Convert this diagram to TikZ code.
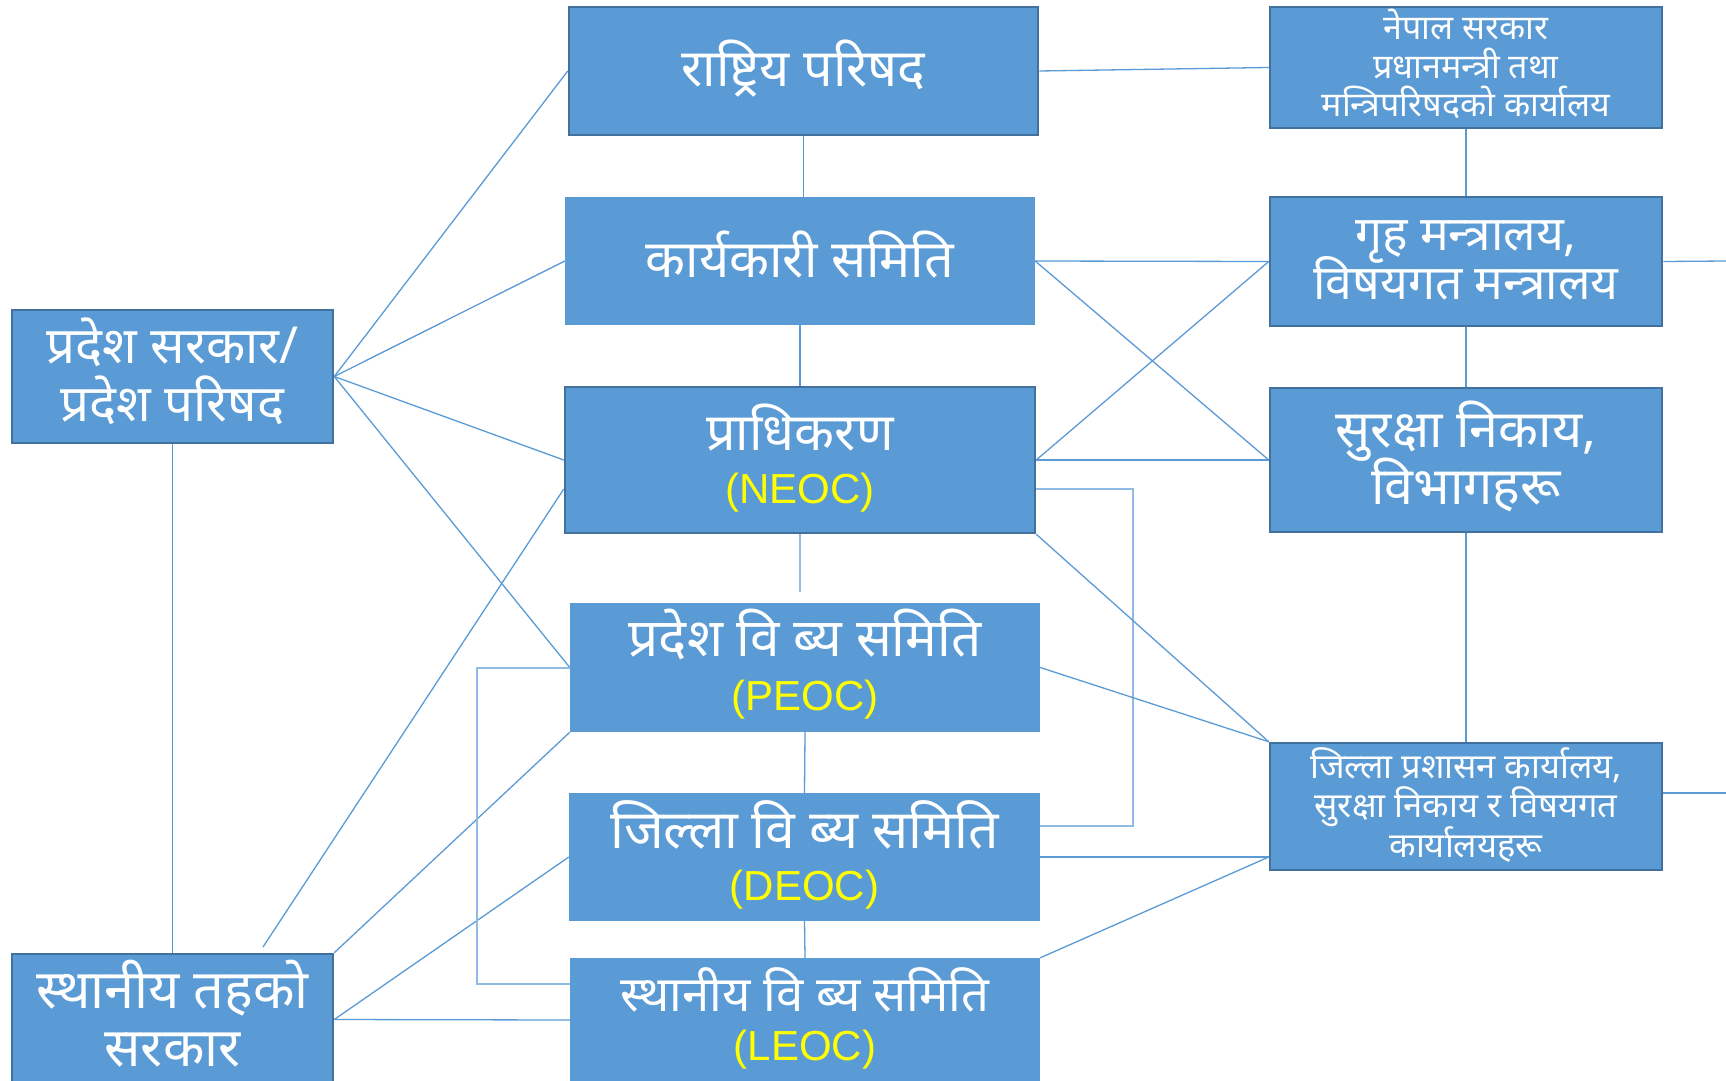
\documentclass[tikz,border=0pt]{standalone}
\usepackage{fontspec}
\setmainfont{Liberation Sans}
\newfontfamily\dev[Script=Devanagari]{Noto Sans}
\newfontfamily\lat{Liberation Sans}
\usetikzlibrary{calc,backgrounds}
\definecolor{boxblue}{HTML}{5B9BD5}
\definecolor{boxedge}{HTML}{41719C}
\definecolor{linkblue}{HTML}{5B9BD5}
\definecolor{elbowblue}{HTML}{8FBBE5}
\definecolor{neon}{HTML}{FFFF00}
\newcommand{\fsz}[2]{\fontsize{#1pt}{#2pt}\selectfont\lineskiplimit=-200pt\lineskip=0pt}
\newcommand{\yel}[1]{{\color{neon}\lat\fsz{42}{58}#1}}
\newcommand{\up}[2]{\raisebox{#1}[\height][\depth]{#2}}
\begin{document}
\begin{tikzpicture}[x=1pt,y=-1pt,
  box/.style={fill=boxblue,text=white,align=center,inner sep=0pt},
  edged/.style={box,draw=boxedge,line width=2.5pt},
  link/.style={draw=linkblue,line width=1.3pt},
  elbow/.style={draw=elbowblue,line width=2pt}]
\useasboundingbox (0,0) rectangle (1726,1081);
% boxes
\node[edged,minimum width=469pt,minimum height=128pt,font=\dev\fsz{52}{58}] (rastriya) at (803.5,71) {\up{2pt}{राष्ट्रिय परिषद}};
\node[edged,minimum width=392pt,minimum height=121pt,font=\dev\fsz{34}{38.5}] (nepal) at (1466,67.5) {\up{3.3pt}{नेपाल सरकार}\\\up{3.3pt}{प्रधानमन्त्री तथा}\\\up{3.3pt}{मन्त्रिपरिषदको कार्यालय}};
\node[box,minimum width=470pt,minimum height=128pt,font=\dev\fsz{52}{58}] (karya) at (800,261) {\up{6.5pt}{कार्यकारी समिति}};
\node[edged,minimum width=392pt,minimum height=129pt,font=\dev\fsz{48}{49.5}] (griha) at (1466,261.5) {\up{1pt}{गृह मन्त्रालय,}\\\up{1pt}{विषयगत मन्त्रालय}};
\node[edged,minimum width=470pt,minimum height=146pt,font=\dev\fsz{52}{57}] (pradhi) at (800,460) {\up{0.4pt}{प्राधिकरण}\\\up{3.7pt}{\yel{(NEOC)}}};
\node[edged,minimum width=392pt,minimum height=144pt,font=\dev\fsz{52}{57}] (suraksha) at (1466,460) {\up{3.5pt}{सुरक्षा निकाय,}\\\up{4pt}{विभागहरू}};
\node[edged,minimum width=321pt,minimum height=133pt,font=\dev\fsz{51}{58}] (pradesh) at (172.5,376.5) {\up{5pt}{प्रदेश सरकार/}\\\up{5pt}{प्रदेश परिषद}};
\node[box,minimum width=470pt,minimum height=129pt,font=\dev\fsz{53}{57}] (peoc) at (805,667.5) {\up{2pt}{प्रदेश वि ब्य समिति}\\\up{5.3pt}{\yel{(PEOC)}}};
\node[box,minimum width=471pt,minimum height=128pt,font=\dev\fsz{53.5}{57}] (deoc) at (804.5,857) {\up{0pt}{जिल्ला वि ब्य समिति}\\\up{4.3pt}{\yel{(DEOC)}}};
\node[box,minimum width=470pt,minimum height=124pt,font=\dev\fsz{49}{53}] (leoc) at (805,1020) {\up{0pt}{स्थानीय वि ब्य समिति}\\\up{3.2pt}{\yel{(LEOC)}}};
\node[edged,minimum width=392pt,minimum height=127pt,font=\dev\fsz{34.5}{39.5}] (jilla) at (1466,806.5) {\up{2pt}{जिल्ला प्रशासन कार्यालय,}\\\up{2pt}{सुरक्षा निकाय र विषयगत}\\\up{2pt}{कार्यालयहरू}};
\node[edged,minimum width=321pt,minimum height=131pt,font=\dev\fsz{54}{57}] (sthaniya) at (172.5,1019.5) {\up{6pt}{स्थानीय तहको}\\\up{5.5pt}{सरकार}};
% free ends
\coordinate (gright) at (1726,261);
\coordinate (jright) at (1726,793);
\coordinate (nstub) at (800,592);
\coordinate (sfree) at (263,947);
\begin{scope}[on background layer]
\fill[white] (0,0) rectangle (1726,1081);
\draw[link] (rastriya.east) -- (nepal.west);
\draw[link] (rastriya.south) -- (rastriya.south |- karya.north);
\draw[link] (nepal.south) -- (griha.north);
\draw[link] (karya.east) -- (griha.west);
\draw[link] (karya.east) -- (suraksha.west);
\draw[link] (pradhi.east) -- (griha.west);
\draw[link] (pradhi.east) -- (suraksha.west);
\draw[link] (griha.east) -- (gright);
\draw[link] (griha.south) -- (suraksha.north);
\draw[link] (suraksha.south) -- (jilla.north);
\draw[link] (jilla.east |- jright) -- (jright);
\draw[link] (karya.south) -- (pradhi.north);
\draw[elbow] (pradhi.south) -- (nstub);
\draw[elbow] (pradhi.east |- 0,489) -| (1133,826) -- (deoc.east |- 0,826);
\draw[link] (pradhi.south east) -- (jilla.north west);
\draw[link] (peoc.east) -- (jilla.north west);
\draw[link] (deoc.east) -- (jilla.west |- deoc.east);
\draw[link] (leoc.north east) -- (jilla.west |- deoc.east);
\draw[link] (peoc.south) -- (deoc.north);
\draw[link] (deoc.south) -- (leoc.north);
\draw[link] (pradesh.east) -- (rastriya.west);
\draw[link] (pradesh.east) -- (karya.west);
\draw[link] (pradesh.east) -- (pradhi.west);
\draw[link] (pradesh.east) -- (peoc.west);
\draw[link] (pradesh.south) -- (sthaniya.north);
\draw[link] (sfree) -- (pradhi.west |- 0,489);
\draw[link] (sthaniya.north east) -- (peoc.south west);
\draw[link] (sthaniya.east) -- (deoc.west);
\draw[link] (sthaniya.east) -- (leoc.west);
\draw[elbow] (peoc.west |- 0,668) -| (477,984) -- (leoc.west |- 0,984);
\end{scope}
\end{tikzpicture}
\end{document}
